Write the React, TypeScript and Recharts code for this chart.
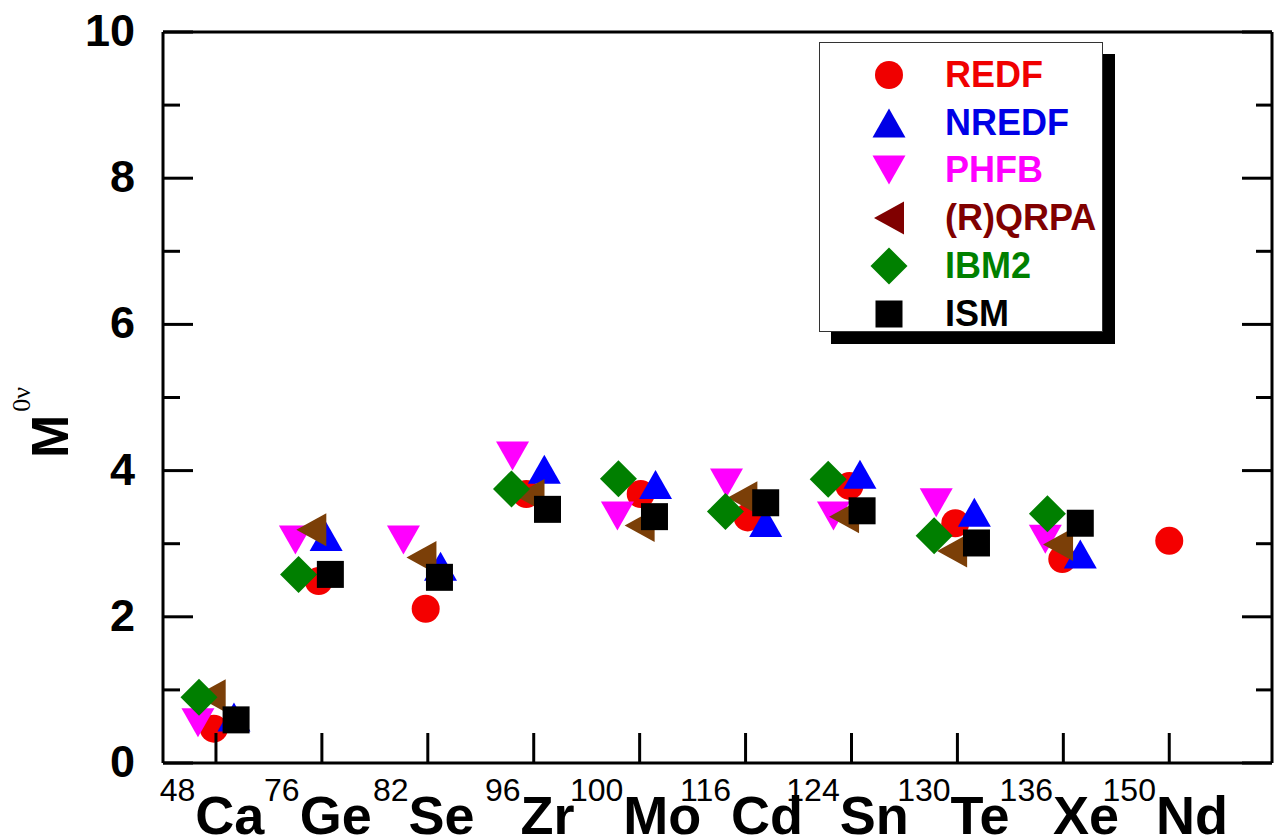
import React from "react";
import { ScatterChart, Scatter, XAxis, YAxis } from "recharts";

// isotopes on the x axis
const massNumbers = ["48", "76", "82", "96", "100", "116", "124", "130", "136", "150"];
const elements = ["Ca", "Ge", "Se", "Zr", "Mo", "Cd", "Sn", "Te", "Xe", "Nd"];
const xTicks = [0, 1, 2, 3, 4, 5, 6, 7, 8, 9];
const yTicks = [0, 1, 2, 3, 4, 5, 6, 7, 8, 9, 10];

// x = position in category units (points are spread a little around each isotope)
const redfX = [-0.02, 0.97, 1.98, 2.93, 4.01, 5.02, 5.98, 6.98, 7.99, 9.0];
const redfY = [0.47, 2.49, 2.11, 3.68, 3.68, 3.36, 3.79, 3.28, 2.79, 3.04];

const nredfX = [0.17, 1.04, 2.12, 3.1, 4.15, 5.19, 6.08, 7.16, 8.16];
const nredfY = [0.63, 3.1, 2.69, 4.02, 3.81, 3.29, 3.95, 3.43, 2.86];

const phfbX = [-0.17, 0.75, 1.77, 2.8, 3.79, 4.82, 5.83, 6.8, 7.83];
const phfbY = [0.55, 3.05, 3.05, 4.2, 3.38, 3.83, 3.38, 3.56, 3.06];

const qrpaX = [-0.05, 0.9, 1.94, 2.96, 4.0, 4.97, 5.93, 6.95, 7.95];
const qrpaY = [0.92, 3.19, 2.81, 3.66, 3.25, 3.63, 3.37, 2.9, 2.99];

const ibm2X = [-0.16, 0.78, 2.79, 3.8, 4.81, 5.78, 6.78, 7.85];
const ibm2Y = [0.9, 2.58, 3.75, 3.89, 3.44, 3.88, 3.11, 3.41];

const ismX = [0.19, 1.08, 2.11, 3.13, 4.14, 5.19, 6.1, 7.18, 8.16];
const ismY = [0.59, 2.58, 2.54, 3.47, 3.37, 3.56, 3.45, 3.01, 3.28];

const FONT = "'Liberation Sans', Arial, sans-serif";

type Kind = "circle" | "up" | "down" | "left" | "diamond" | "square";

const SERIES: { name: string; kind: Kind; fill: string; text: string; xs: number[]; ys: number[] }[] = [
  { name: "REDF", kind: "circle", fill: "#f40000", text: "#f00000", xs: redfX, ys: redfY },
  { name: "NREDF", kind: "up", fill: "#0000ff", text: "#0000e6", xs: nredfX, ys: nredfY },
  { name: "PHFB", kind: "down", fill: "#ff00ff", text: "#ff00ff", xs: phfbX, ys: phfbY },
  { name: "(R)QRPA", kind: "left", fill: "#7b3f08", text: "#800000", xs: qrpaX, ys: qrpaY },
  { name: "IBM2", kind: "diamond", fill: "#007f00", text: "#008000", xs: ibm2X, ys: ibm2Y },
  { name: "ISM", kind: "square", fill: "#000000", text: "#000000", xs: ismX, ys: ismY },
];

function Marker({ kind, cx, cy, fill }: { kind: Kind; cx: number; cy: number; fill: string }) {
  if (cx == null || cy == null) return null;
  switch (kind) {
    case "circle":
      return <circle cx={cx} cy={cy} r={14} fill={fill} />;
    case "up":
      return <polygon points={`${cx},${cy - 14.5} ${cx + 16.5},${cy + 14.5} ${cx - 16.5},${cy + 14.5}`} fill={fill} />;
    case "down":
      return <polygon points={`${cx},${cy + 14.5} ${cx + 16.5},${cy - 14.5} ${cx - 16.5},${cy - 14.5}`} fill={fill} />;
    case "left":
      return <polygon points={`${cx - 15},${cy} ${cx + 15},${cy - 16.5} ${cx + 15},${cy + 16.5}`} fill={fill} />;
    case "diamond":
      return <polygon points={`${cx},${cy - 18.5} ${cx + 18.5},${cy} ${cx},${cy + 18.5} ${cx - 18.5},${cy}`} fill={fill} />;
    default:
      return <rect x={cx - 13.5} y={cy - 13.5} width={27} height={27} fill={fill} />;
  }
}

function LeftTick({ x, y, payload }: any) {
  const major = payload.value % 2 === 0;
  return (
    <g>
      <line x1={x} x2={x + (major ? 30 : 17)} y1={y} y2={y} stroke="#000" strokeWidth={3} />
      {major && (
        <text x={x - 28} y={y + 14} textAnchor="end" fontSize={45} fontWeight="bold" fontFamily={FONT} fill="#000">
          {payload.value}
        </text>
      )}
    </g>
  );
}

function RightTick({ x, y, payload }: any) {
  const major = payload.value % 2 === 0;
  return <line x1={x} x2={x - (major ? 30 : 16)} y1={y} y2={y} stroke="#000" strokeWidth={3} />;
}

function TopTick({ x, y }: any) {
  return <line x1={x} x2={x} y1={y} y2={y + 31} stroke="#000" strokeWidth={3} />;
}

function BottomTick({ x, y, payload }: any) {
  const i = payload.value;
  return (
    <g>
      <line x1={x} x2={x} y1={y} y2={y - 30} stroke="#000" strokeWidth={3} />
      <text x={x - 4} y={y + 71} textAnchor="middle" fontFamily={FONT} fill="#000">
        <tspan fontSize={32} dy={-33}>{massNumbers[i]}</tspan>
        <tspan fontSize={54} fontWeight="bold" dy={33}>{elements[i]}</tspan>
      </text>
    </g>
  );
}

function YTitle() {
  return (
    <text x={68} y={458} transform="rotate(-90 68 458)" fill="#000">
      <tspan fontSize={52} fontWeight="bold" fontFamily={FONT}>M</tspan>
      <tspan fontSize={26} fontFamily="'Liberation Serif', 'DejaVu Serif', serif" dx={3} dy={-38}>0ν</tspan>
    </text>
  );
}

function LegendBox() {
  return (
    <div
      style={{
        position: "absolute",
        left: 819,
        top: 42,
        width: 284,
        height: 290,
        background: "#fff",
        border: "1.5px solid #333",
        boxShadow: "12px 12px 0 0 #000",
        paddingTop: 8,
        boxSizing: "border-box",
      }}
    >
      {SERIES.map((s) => (
        <div key={s.name} style={{ display: "flex", alignItems: "center", height: 47.8 }}>
          <svg width={100} height={44} style={{ flex: "none", marginLeft: 20 }}>
            <Marker kind={s.kind} cx={49} cy={22} fill={s.text} />
          </svg>
          <span style={{ marginLeft: 5, fontFamily: FONT, fontWeight: "bold", fontSize: 36, color: s.text, lineHeight: 1 }}>
            {s.name}
          </span>
        </div>
      ))}
    </div>
  );
}

export default function App() {
  return (
    <div style={{ position: "absolute", left: 0, top: 0, width: 1275, height: 838, background: "#fff" }}>
      <ScatterChart width={1275} height={838} margin={{ top: 0, right: 0, bottom: 0, left: 0 }}>
        <XAxis
          xAxisId="top"
          orientation="top"
          type="number"
          domain={[-0.5, 9.97]}
          ticks={xTicks}
          height={32}
          allowDataOverflow
          axisLine={{ stroke: "#000", strokeWidth: 3 }}
          tickLine={false}
          tickSize={0}
          tickMargin={0}
          tick={<TopTick />}
        />
        <XAxis
          dataKey="x"
          type="number"
          domain={[-0.5, 9.97]}
          ticks={xTicks}
          height={75}
          allowDataOverflow
          axisLine={{ stroke: "#000", strokeWidth: 3 }}
          tickLine={false}
          tickSize={0}
          tickMargin={0}
          tick={<BottomTick />}
          interval={0}
        />
        <YAxis
          dataKey="y"
          type="number"
          domain={[0, 10]}
          ticks={yTicks}
          width={163}
          allowDataOverflow
          axisLine={{ stroke: "#000", strokeWidth: 3 }}
          tickLine={false}
          tickSize={0}
          tickMargin={0}
          tick={<LeftTick />}
          interval={0}
          label={{ content: () => <YTitle /> }}
        />
        <YAxis
          yAxisId="right"
          orientation="right"
          type="number"
          domain={[0, 10]}
          ticks={yTicks}
          width={3}
          allowDataOverflow
          axisLine={{ stroke: "#000", strokeWidth: 3 }}
          tickLine={false}
          tickSize={0}
          tickMargin={0}
          tick={<RightTick />}
          interval={0}
        />
        {SERIES.map((s) => (
          <Scatter
            key={s.name}
            name={s.name}
            data={s.xs.map((x, i) => ({ x, y: s.ys[i] }))}
            isAnimationActive={false}
            shape={(p: any) => <Marker kind={s.kind} cx={p.cx} cy={p.cy} fill={s.fill} />}
          />
        ))}
      </ScatterChart>
      <LegendBox />
    </div>
  );
}
